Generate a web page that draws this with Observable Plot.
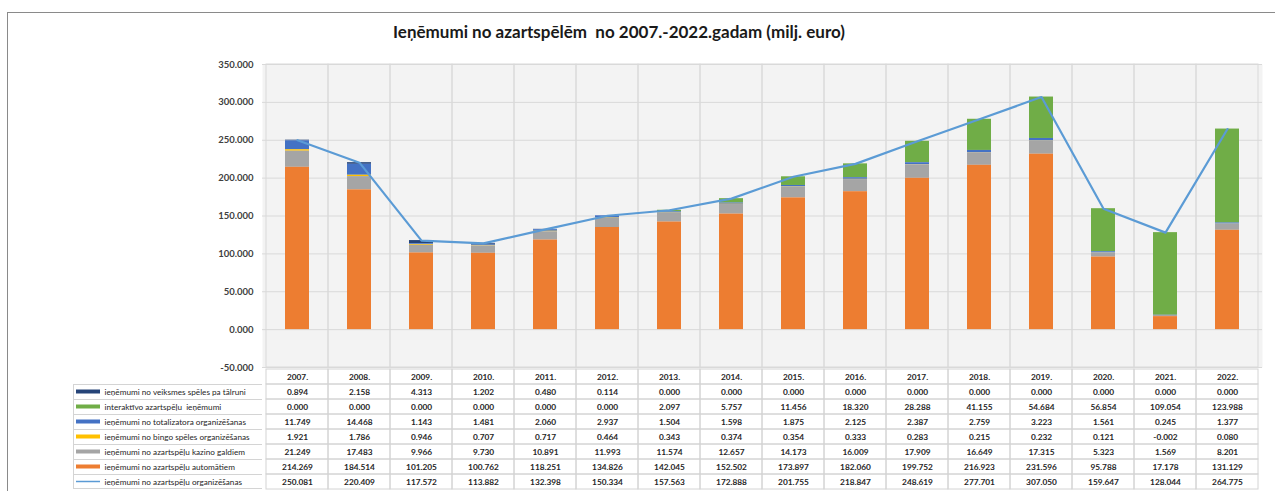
<!DOCTYPE html>
<html><head><meta charset="utf-8">
<script src="https://cdn.jsdelivr.net/npm/d3@7"></script>
<script src="https://cdn.jsdelivr.net/npm/@observablehq/plot@0.6"></script>
<style>
html,body{margin:0;padding:0;background:#fff;width:1275px;height:491px;overflow:hidden;}
#wrap{position:relative;width:1275px;height:491px;}
#border{position:absolute;left:7px;top:12px;width:1300px;height:500px;border-top:1.5px solid #8a8a8a;border-left:1.5px solid #8a8a8a;}
#title{position:absolute;top:21px;left:0;width:1238px;text-align:center;font:bold 17px Lato, sans-serif;color:#1a1a1a;white-space:pre;}
#chart{position:absolute;left:0;top:0;}
#table{position:absolute;left:0;top:369px;}
svg{overflow:visible;}
</style></head>
<body><div id="wrap"><div id="border"></div><div id="title">Ieņēmumi no azartspēlēm  no 2007.-2022.gadam (milj. euro)</div><div id="chart"></div><div id="table"></div></div>
<script>
// ---- data ----
const years = ["2007.","2008.","2009.","2010.","2011.","2012.","2013.","2014.","2015.","2016.","2017.","2018.","2019.","2020.","2021.","2022."];
const seriesNames = [
  "ieņēmumi no veiksmes spēles pa tālruni",
  "interaktīvo azartspēļu  ieņēmumi",
  "ieņēmumi no totalizatora organizēšanas",
  "ieņēmumi no bingo spēles organizēšanas",
  "ieņēmumi no azartspēļu kazino galdiem",
  "ieņēmumi no azartspēļu automātiem"
];
const totalName = "ieņēmumi no azartspēļu organizēšanas";
const veiksmes     = [0.894, 2.158, 4.313, 1.202, 0.480, 0.114, 0.000, 0.000, 0.000, 0.000, 0.000, 0.000, 0.000, 0.000, 0.000, 0.000];
const interaktivo  = [0.000, 0.000, 0.000, 0.000, 0.000, 0.000, 2.097, 5.757, 11.456, 18.320, 28.288, 41.155, 54.684, 56.854, 109.054, 123.988];
const totalizators = [11.749, 14.468, 1.143, 1.481, 2.060, 2.937, 1.504, 1.598, 1.875, 2.125, 2.387, 2.759, 3.223, 1.561, 0.245, 1.377];
const bingo        = [1.921, 1.786, 0.946, 0.707, 0.717, 0.464, 0.343, 0.374, 0.354, 0.333, 0.283, 0.215, 0.232, 0.121, -0.002, 0.080];
const kazino       = [21.249, 17.483, 9.966, 9.730, 10.891, 11.993, 11.574, 12.657, 14.173, 16.009, 17.909, 16.649, 17.315, 5.323, 1.569, 8.201];
const automati     = [214.269, 184.514, 101.205, 100.762, 118.251, 134.826, 142.045, 152.502, 173.897, 182.060, 199.752, 216.923, 231.596, 95.788, 17.178, 131.129];
const kopa         = [250.081, 220.409, 117.572, 113.882, 132.398, 150.334, 157.563, 172.888, 201.755, 218.847, 248.619, 277.701, 307.050, 159.647, 128.044, 264.775];
const yTicks = [-50, 0, 50, 100, 150, 200, 250, 300, 350];

const seriesValues = [veiksmes, interaktivo, totalizators, bingo, kazino, automati];
const seriesColors = ["#264478", "#70AD47", "#4472C4", "#FFC000", "#A5A5A5", "#ED7D31"];
const lineColor = "#5B9BD5";
const stackOrder = [...seriesNames].reverse(); // bottom to top

const fmt = v => (v < 0 ? "-" : "") + Math.abs(v).toFixed(3);

const stackData = seriesNames.flatMap((s, si) => years.map((y, i) => ({year: y, series: s, value: seriesValues[si][i]})));
const totalData = years.map((y, i) => ({year: y, value: kopa[i]}));

// ---- main chart ----
const chart = Plot.plot({
  width: 1275, height: 369,
  marginLeft: 262, marginRight: 13, marginTop: 64, marginBottom: 2,
  style: {fontFamily: "Lato, sans-serif", fontSize: "9.5px", fontWeight: "bold", color: "#404040", background: "transparent"},
  x: {domain: years, type: "band", padding: 0, axis: null},
  y: {domain: [-50, 350], ticks: yTicks, tickFormat: fmt, tickSize: 0, tickPadding: 9, label: null},
  color: {domain: seriesNames, range: seriesColors},
  marks: [
    Plot.frame({fill: "#f3f3f3", stroke: "none"}),
    Plot.cell(years, {x: d => d, fill: "none", stroke: "#d9d9d9"}),
    Plot.ruleY(yTicks, {stroke: "#d9d9d9"}),
    Plot.barY(stackData, {x: "year", y: "value", fill: "series", order: stackOrder, insetLeft: 19, insetRight: 19}),
    Plot.line(totalData, {x: "year", y: "value", stroke: lineColor, strokeWidth: 2.2})
  ]
});
document.getElementById("chart").appendChild(chart);

// ---- data table ----
const rowKeys = ["__header__", ...seriesNames, totalName];
const allValues = [...seriesValues, kopa];
const cellData = [
  ...years.map(y => ({year: y, row: "__header__", label: y})),
  ...[...seriesNames, totalName].flatMap((s, si) => years.map((y, i) => ({year: y, row: s, label: fmt(allValues[si][i])})))
];
const legendRows = [...seriesNames.map((s, i) => ({row: s, color: seriesColors[i], kind: "bar"})), {row: totalName, color: lineColor, kind: "line"}];
const LABEL_COL = 189;

function labelColumn(index, scales, values, dimensions) {
  const y = scales.y;
  const bw = y.bandwidth();
  const right = dimensions.marginLeft;
  const left = right - LABEL_COL;
  const g = d3.create("svg:g");
  const top = y(legendRows[0].row);
  const bottom = y(legendRows[legendRows.length - 1].row) + bw;
  for (const r of legendRows) {
    const y0 = y(r.row);
    g.append("line").attr("x1", left).attr("x2", right).attr("y1", y0 + 0.5).attr("y2", y0 + 0.5).attr("stroke", "#d4d4d4");
    if (r.kind === "bar") {
      g.append("rect").attr("x", left + 3).attr("y", y0 + bw / 2 - 2).attr("width", 24).attr("height", 4).attr("fill", r.color);
    } else {
      g.append("line").attr("x1", left + 3).attr("x2", left + 27).attr("y1", y0 + bw / 2).attr("y2", y0 + bw / 2).attr("stroke", r.color).attr("stroke-width", 1.5);
    }
  }
  g.append("line").attr("x1", left).attr("x2", right).attr("y1", bottom - 0.5).attr("y2", bottom - 0.5).attr("stroke", "#d4d4d4");
  g.append("line").attr("x1", left + 0.5).attr("x2", left + 0.5).attr("y1", top).attr("y2", bottom).attr("stroke", "#d4d4d4");
  return g.node();
}

const table = Plot.plot({
  width: 1275, height: 122,
  marginLeft: 262, marginRight: 13, marginTop: 0, marginBottom: 2,
  style: {fontFamily: "Lato, sans-serif", fontSize: "8px", color: "#262626", background: "transparent"},
  x: {domain: years, type: "band", padding: 0, axis: null},
  y: {domain: rowKeys, type: "band", padding: 0, axis: null},
  marks: [
    Plot.cell(cellData, {x: "year", y: "row", fill: "none", stroke: "#d4d4d4"}),
    Plot.text(cellData, {x: "year", y: "row", text: "label", fontSize: 8.3, fontWeight: "bold", fill: "#262626"}),
    labelColumn,
    Plot.text(legendRows, {y: "row", text: "row", frameAnchor: "left", dx: -(LABEL_COL - 31), textAnchor: "start", fontSize: 8.2, fill: "#262626"})
  ]
});
document.getElementById("table").appendChild(table);
</script>
</body></html>
